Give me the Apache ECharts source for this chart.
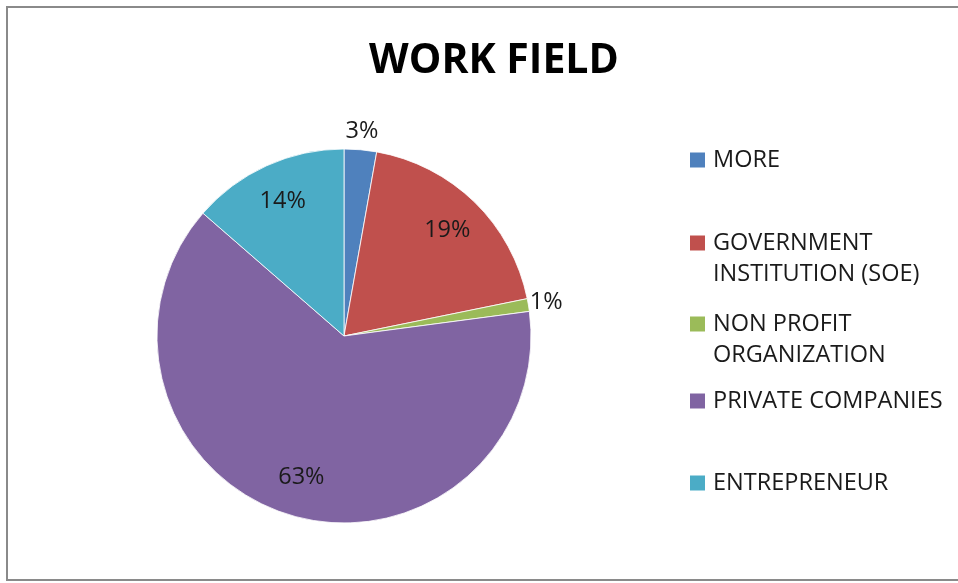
<!DOCTYPE html>
<html>
<head>
<meta charset="utf-8">
<script src="https://cdn.jsdelivr.net/npm/echarts@6/dist/echarts.min.js"></script>
<style>
html,body{margin:0;padding:0;background:#fff;}
#chart{width:958px;height:583px;}
</style>
</head>
<body>
<div id="chart"></div>
<script>
const titleText = 'WORK FIELD';
const categories = ['MORE', 'GOVERNMENT\nINSTITUTION (SOE)', 'NON PROFIT\nORGANIZATION', 'PRIVATE COMPANIES', 'ENTREPRENEUR'];
const values = [2.8, 19.0, 1.1, 63.5, 13.6];
const colors = ['#4F81BD', '#C0504D', '#9BBB59', '#8064A2', '#4BACC6'];
const outsideLabelNames = ['MORE', 'NON PROFIT\nORGANIZATION'];

const FONT = 'Open Sans';
const chart = echarts.init(document.getElementById('chart'));

const baseData = categories.map((c, i) => ({ name: c, value: values[i] }));
const center = [344, 336];

// vertical centre of the first text line of each legend entry
const legendLineCenters = [160, 243, 324, 401, 483];
const LH = 31;
const legends = categories.map((c, i) => {
  const twoLine = c.indexOf('\n') >= 0;
  return {
    data: [c],
    orient: 'vertical',
    left: 688,
    top: twoLine ? legendLineCenters[i] - 1.5 * LH : legendLineCenters[i] - LH / 2,
    padding: 0,
    icon: 'rect',
    itemWidth: 17,
    itemHeight: 17,
    selectedMode: false,
    formatter: function (name) {
      return name.indexOf('\n') >= 0 ? '\u00a0\n' + name : name;
    },
    textStyle: {
      fontFamily: FONT,
      fontSize: 23.5,
      color: '#1a1a1a',
      lineHeight: LH,
      padding: [0, 0, 0, 2]
    }
  };
});

const labelCommon = {
  formatter: '{d}%',
  fontFamily: FONT,
  fontSize: 23.5,
  color: '#1a1a1a'
};

const option = {
  backgroundColor: '#ffffff',
  color: colors,
  animation: false,
  title: {
    text: titleText,
    left: 489,
    textAlign: 'center',
    top: 36,
    textStyle: { fontFamily: FONT, fontWeight: 'bold', fontSize: 41, color: '#000' }
  },
  legend: legends,
  graphic: [{
    type: 'rect',
    shape: { x: 7, y: 7, width: 960, height: 573 },
    style: { fill: 'none', stroke: '#8a8a8a', lineWidth: 2 },
    silent: true,
    z: 100
  }],
  series: [
    {
      type: 'pie',
      center: center,
      radius: 187,
      startAngle: 90,
      clockwise: true,
      percentPrecision: 0,
      data: baseData,
      itemStyle: { borderColor: '#ffffff', borderWidth: 0.8 },
      label: { show: false },
      labelLine: { show: false },
      emphasis: { disabled: true }
    },
    {
      type: 'pie',
      center: center,
      radius: [103, 187],
      startAngle: 90,
      clockwise: true,
      percentPrecision: 0,
      silent: true,
      legendHoverLink: false,
      data: categories.map((c, i) => ({
        name: c, value: values[i],
        label: { show: outsideLabelNames.indexOf(c) < 0 }
      })),
      itemStyle: { color: 'rgba(0,0,0,0)' },
      label: Object.assign({ position: 'inside' }, labelCommon),
      labelLine: { show: false },
      emphasis: { disabled: true }
    },
    {
      type: 'pie',
      center: center,
      radius: [187, 217],
      startAngle: 90,
      clockwise: true,
      percentPrecision: 0,
      silent: true,
      legendHoverLink: false,
      data: categories.map((c, i) => ({
        name: c, value: values[i],
        label: { show: outsideLabelNames.indexOf(c) >= 0 }
      })),
      itemStyle: { color: 'rgba(0,0,0,0)' },
      label: Object.assign({ position: 'inside' }, labelCommon),
      labelLine: { show: false },
      emphasis: { disabled: true }
    }
  ]
};
chart.setOption(option);
</script>
</body>
</html>
